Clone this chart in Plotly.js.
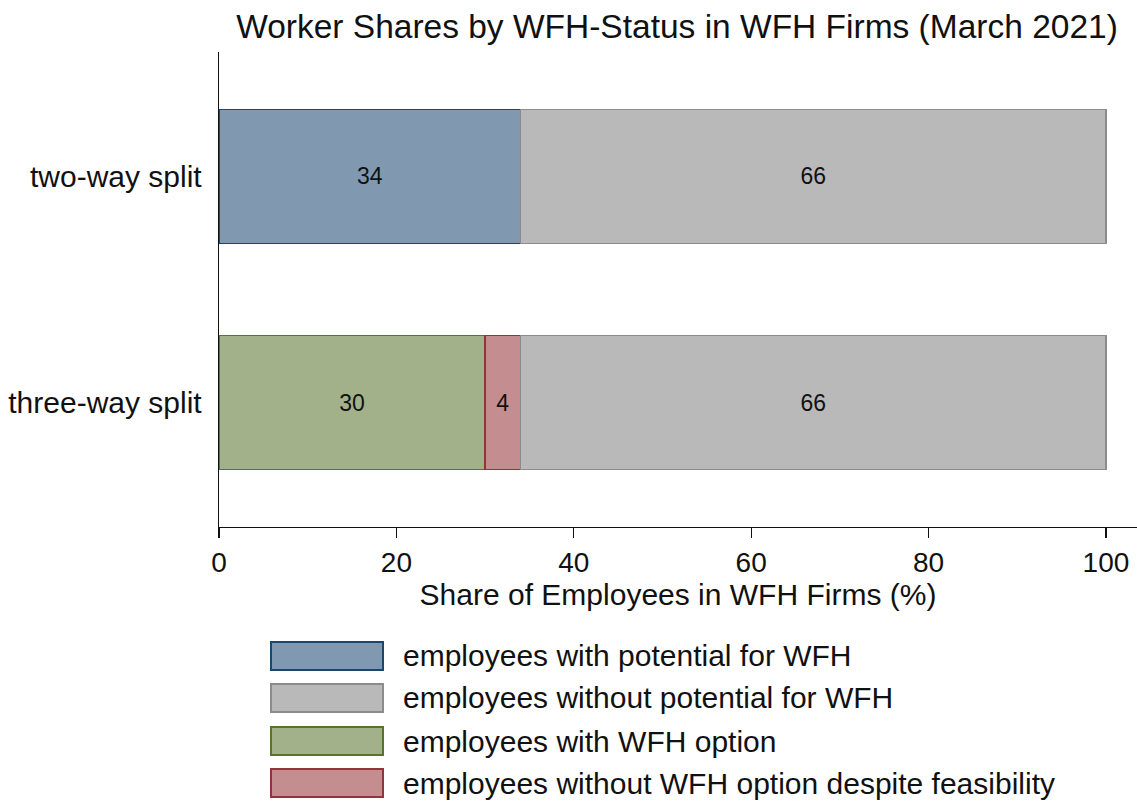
<!DOCTYPE html>
<html>
<head>
<meta charset="utf-8">
<script src="https://cdn.plot.ly/plotly-3.0.1.min.js"></script>
<style>html,body{margin:0;padding:0;background:#fff;}#chart{width:1137px;height:801px;}</style>
</head>
<body>
<div id="chart"></div>
<script>
// Categories (top to bottom in the picture)
const categories = ['two-way split', 'three-way split'];

// Series names
const seriesNames = [
  'employees with potential for WFH',
  'employees without potential for WFH',
  'employees with WFH option',
  'employees without WFH option despite feasibility'
];

// Series values (per category: two-way, three-way)
const withPotential = [34, null];
const withoutPotential = [66, 66];
const withOption = [null, 30];
const withoutOptionFeasible = [null, 4];

const xTicks = [0, 20, 40, 60, 80, 100];

const fills = ['#8199b0', '#b9b9b9', '#a3b18b', '#c48d8f'];
const lines = ['#1a476f', '#8c8c8c', '#55752f', '#90353b'];

const FONT = 'Liberation Sans, Arial, sans-serif';

function barTrace(vals, idx) {
  return {
    type: 'bar',
    orientation: 'h',
    y: categories,
    x: vals,
    name: seriesNames[idx],
    marker: {color: fills[idx], line: {color: lines[idx], width: 1.5}},
    text: vals.map(v => v == null ? '' : String(v)),
    textposition: 'inside',
    insidetextanchor: 'middle',
    textangle: 0,
    constraintext: 'none',
    textfont: {family: FONT, size: 23, color: '#111'},
    hoverinfo: 'x+name',
    showlegend: false,
    width: 0.593
  };
}

const data = [
  barTrace(withPotential, 0),
  barTrace(withOption, 2),
  barTrace(withoutOptionFeasible, 3),
  barTrace(withoutPotential, 1)
];

// legend drawn as boxes + labels below the plot
const shapes = [];
const annotations = [];
const legendRowsY = [656, 698, 741, 783]; // pixel centers
const H = 801, W = 1137;
seriesNames.forEach((name, i) => {
  const cy = legendRowsY[i];
  shapes.push({
    type: 'rect', xref: 'paper', yref: 'paper', layer: 'above',
    x0: (271 - 219) / (W - 219), x1: (383 - 219) / (W - 219),
    y0: (527 - (cy + 14)) / (527 - 52), y1: (527 - (cy - 14)) / (527 - 52),
    fillcolor: fills[i], line: {color: lines[i], width: 2}
  });
  annotations.push({
    xref: 'paper', yref: 'paper', showarrow: false,
    x: (401 - 219) / (W - 219), y: (527 - cy) / (527 - 52),
    xanchor: 'left', yanchor: 'middle',
    text: name, font: {family: FONT, size: 30, color: '#111'}
  });
});

const layout = {
  width: 1137, height: 801,
  margin: {l: 219, r: 0, t: 52, b: 274, pad: 0},
  paper_bgcolor: '#fff', plot_bgcolor: '#fff',
  barmode: 'stack',
  showlegend: false,
  font: {family: FONT, color: '#111'},
  title: {
    text: 'Worker Shares by WFH-Status in WFH Firms (March 2021)',
    font: {family: FONT, size: 33.5, color: '#111'},
    x: 677 / W, xanchor: 'center', y: 1 - 26 / H, yanchor: 'middle'
  },
  xaxis: {
    range: [0, 103.5],
    tickvals: xTicks,
    ticktext: xTicks.map(String),
    ticks: 'outside', ticklen: 10, tickwidth: 1.3, tickcolor: '#111',
    showline: true, linecolor: '#111', linewidth: 1.3,
    showgrid: false, zeroline: false,
    tickfont: {family: FONT, size: 28, color: '#111'},
    title: {text: 'Share of Employees in WFH Firms (%)', font: {family: FONT, size: 30, color: '#111'}, standoff: 3},
    fixedrange: true
  },
  yaxis: {
    type: 'category',
    categoryorder: 'array',
    categoryarray: categories.slice().reverse(),
    range: [-0.55, 1.55],
    showline: true, linecolor: '#111', linewidth: 1.3,
    ticks: '', showgrid: false, zeroline: false,
    tickfont: {family: FONT, size: 30, color: '#111'},
    ticklabelstandoff: 10,
    fixedrange: true
  },
  shapes: shapes,
  annotations: annotations
};

Plotly.newPlot('chart', data, layout, {displayModeBar: false, staticPlot: true});
</script>
</body>
</html>
